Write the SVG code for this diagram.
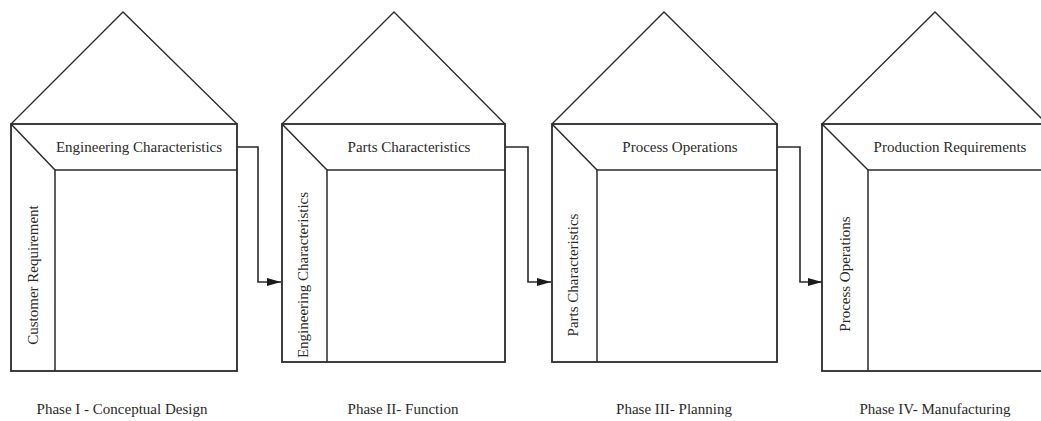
<svg xmlns="http://www.w3.org/2000/svg" width="1041" height="421" viewBox="0 0 1041 421">
  <defs>
    <marker id="arrow" viewBox="0 0 14 8" refX="14" refY="4" markerWidth="14" markerHeight="8" markerUnits="userSpaceOnUse" orient="auto">
      <path d="M0,0 L14,4 L0,8 Z" fill="#1a1a1a"/>
    </marker>
    <style>
      .roof { fill: none; stroke: #2a2a2a; stroke-width: 1.3; stroke-linejoin: miter; }
      .box { fill: none; stroke: #2a2a2a; stroke-width: 1.8; }
      .inner { fill: none; stroke: #2a2a2a; stroke-width: 1.5; }
      .conn { fill: none; stroke: #2a2a2a; stroke-width: 1.6; }
      text { font-family: "Liberation Serif", "Times New Roman", serif; font-size: 15px; fill: #2a2a2a; text-anchor: middle; }
    </style>
  </defs>
  <rect width="1041" height="421" fill="#ffffff"/>

  <!-- Phase I house -->
  <g id="house-phase1">
    <polyline class="roof" points="11,124 123,12 237,124"/>
    <rect class="box" x="11" y="124" width="226" height="247"/>
    <line class="inner" x1="11" y1="124" x2="55" y2="170"/>
    <polyline class="inner" points="237,170 55,170 55,371"/>
    <text x="139" y="152">Engineering Characteristics</text>
    <text transform="translate(38,275) rotate(-90)">Customer Requirement</text>
    <text x="122" y="414">Phase I - Conceptual Design</text>
  </g>

  <!-- Phase II house -->
  <g id="house-phase2">
    <polyline class="roof" points="282,124 394,12 505,124"/>
    <rect class="box" x="282" y="124" width="223" height="238"/>
    <line class="inner" x1="282" y1="124" x2="327" y2="170"/>
    <polyline class="inner" points="505,170 327,170 327,362"/>
    <text x="409" y="152">Parts Characteristics</text>
    <text transform="translate(308,275) rotate(-90)">Engineering Characteristics</text>
    <text x="403" y="414">Phase II- Function</text>
  </g>

  <!-- Phase III house -->
  <g id="house-phase3">
    <polyline class="roof" points="552,124 664,12 777,124"/>
    <rect class="box" x="552" y="124" width="225" height="238"/>
    <line class="inner" x1="552" y1="124" x2="597" y2="170"/>
    <polyline class="inner" points="777,170 597,170 597,362"/>
    <text x="680" y="152">Process Operations</text>
    <text transform="translate(578,275) rotate(-90)">Parts Characteristics</text>
    <text x="674" y="414">Phase III- Planning</text>
  </g>

  <!-- Phase IV house (runs past the right edge) -->
  <g id="house-phase4">
    <polyline class="roof" points="822,124 935,12 1048,125"/>
    <rect class="box" x="822" y="124" width="225" height="247"/>
    <line class="inner" x1="822" y1="124" x2="868" y2="170"/>
    <polyline class="inner" points="1047,170 868,170 868,371"/>
    <text x="950" y="152">Production Requirements</text>
    <text transform="translate(850,274) rotate(-90)">Process Operations</text>
    <text x="935" y="414">Phase IV- Manufacturing</text>
  </g>

  <!-- connectors between phases -->
  <g id="connectors">
    <polyline class="conn" points="237,147 258,147 258,282 281,282" marker-end="url(#arrow)"/>
    <polyline class="conn" points="505,147 528,147 528,282 551,282" marker-end="url(#arrow)"/>
    <polyline class="conn" points="777,147 800,147 800,282 822,282" marker-end="url(#arrow)"/>
  </g>
</svg>
